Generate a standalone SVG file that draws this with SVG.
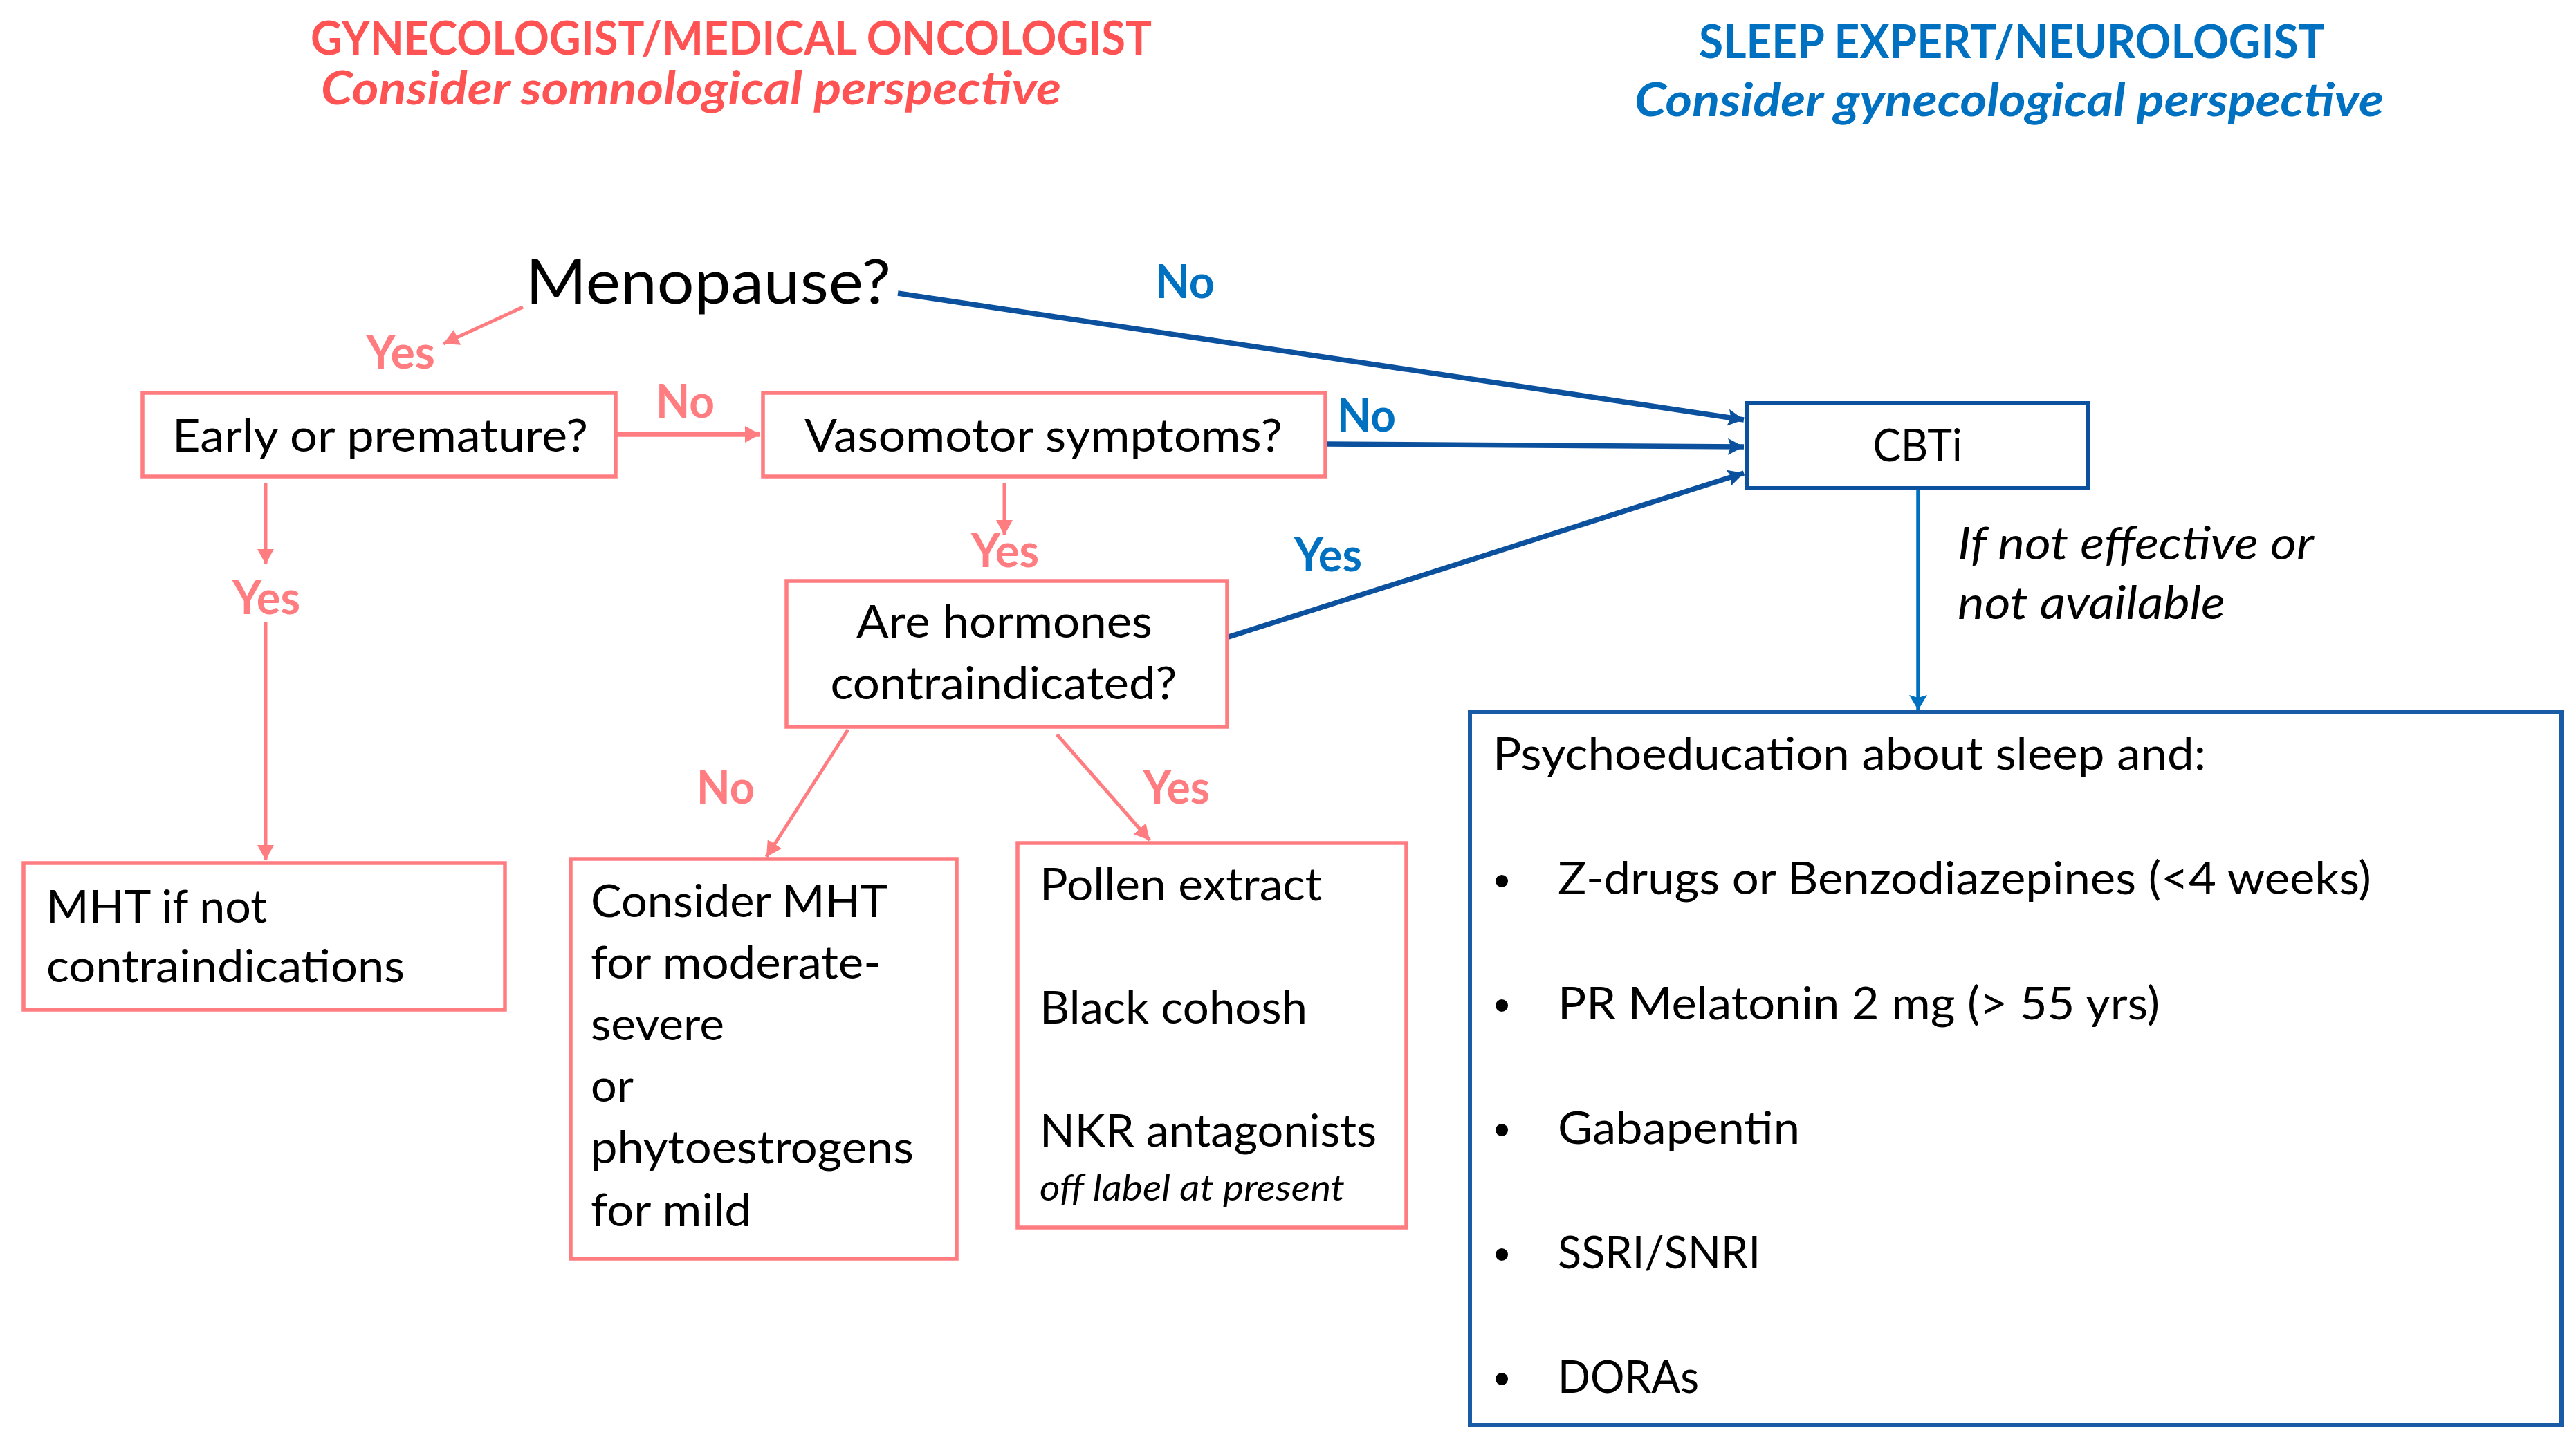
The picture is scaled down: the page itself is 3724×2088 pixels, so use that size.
<svg xmlns="http://www.w3.org/2000/svg" width="3724" height="2088" viewBox="0 0 3724 2088">
<style>
text{font-family:Lato,"Open Sans","Liberation Sans",sans-serif;}
.t{font-size:66px;fill:#000;}
.it{font-style:italic;}
.hr{font-size:66px;font-weight:bold;fill:#FF5252;}
.hb{font-size:66px;font-weight:bold;fill:#0070C0;}
.lp{font-size:66px;font-weight:bold;fill:#FF7C80;}
.lb{font-size:66px;font-weight:bold;fill:#0070C0;}
.pbox{fill:#fff;stroke:#FF7C80;stroke-width:5.5;}
.bbox{fill:#fff;stroke:#0B519E;stroke-width:6;}
.pl{fill:none;stroke:#FF7C80;}
.bl{fill:none;stroke:#0B519E;stroke-width:7.5;}
</style>
<defs>
<marker id="ap" markerUnits="userSpaceOnUse" markerWidth="26" markerHeight="26" refX="22" refY="12" orient="auto" viewBox="0 0 26 26">
<path d="M0,0 L22,12 L0,24 Z" fill="#FF7C80"/>
</marker>
<marker id="ab" markerUnits="userSpaceOnUse" markerWidth="28" markerHeight="28" refX="23" refY="12" orient="auto" viewBox="0 0 28 28">
<path d="M0,0 L23,12 L0,24 L4,12 Z" fill="#0B519E"/>
</marker>
<marker id="ab2" markerUnits="userSpaceOnUse" markerWidth="28" markerHeight="28" refX="22" refY="13" orient="auto" viewBox="0 0 28 28">
<path d="M0,0 L22,13 L0,26 L4,13 Z" fill="#0070C0"/>
</marker>
</defs>
<rect width="3724" height="2088" fill="#fff"/>
<g id="headers">
<text class="hr" x="449" y="79" textLength="1216" lengthAdjust="spacingAndGlyphs">GYNECOLOGIST/MEDICAL ONCOLOGIST</text>
<text class="hr it" x="464" y="151" textLength="1070" lengthAdjust="spacingAndGlyphs">Consider somnological perspective</text>
<text class="hb" x="2456" y="84" textLength="905" lengthAdjust="spacingAndGlyphs">SLEEP EXPERT/NEUROLOGIST</text>
<text class="hb it" x="2363" y="168" textLength="1083" lengthAdjust="spacingAndGlyphs">Consider gynecological perspective</text>
</g>
<g id="connectors">
<line class="pl" x1="756" y1="444" x2="641" y2="497" stroke-width="5" marker-end="url(#ap)"/>
<line class="bl" x1="1298" y1="424" x2="2521" y2="607" marker-end="url(#ab)"/>
<line class="pl" x1="891" y1="628" x2="1099" y2="628" stroke-width="7.5" marker-end="url(#ap)"/>
<line class="bl" x1="1917" y1="642" x2="2521" y2="646" marker-end="url(#ab)"/>
<line class="bl" x1="1776" y1="921" x2="2521" y2="684" marker-end="url(#ab)"/>
<line class="pl" x1="384" y1="699" x2="384" y2="816" stroke-width="5" marker-end="url(#ap)"/>
<line class="pl" x1="384" y1="900" x2="384" y2="1244" stroke-width="5" marker-end="url(#ap)"/>
<line class="pl" x1="1452" y1="699" x2="1452" y2="774" stroke-width="5" marker-end="url(#ap)"/>
<line class="pl" x1="1226" y1="1055" x2="1108" y2="1239" stroke-width="5" marker-end="url(#ap)"/>
<line class="pl" x1="1528" y1="1062" x2="1662" y2="1215" stroke-width="5" marker-end="url(#ap)"/>
<line x1="2773" y1="706" x2="2773" y2="1027" stroke="#0070C0" stroke-width="5.5" marker-end="url(#ab2)"/>
</g>
<g id="labels">
<text class="lp" x="529" y="533" textLength="100" lengthAdjust="spacingAndGlyphs">Yes</text>
<text class="lb" x="1670" y="431" textLength="86" lengthAdjust="spacingAndGlyphs">No</text>
<text class="lp" x="948" y="604" textLength="85" lengthAdjust="spacingAndGlyphs">No</text>
<text class="lb" x="1933" y="624" textLength="85" lengthAdjust="spacingAndGlyphs">No</text>
<text class="lp" x="1404" y="820" textLength="98" lengthAdjust="spacingAndGlyphs">Yes</text>
<text class="lp" x="336" y="888" textLength="98" lengthAdjust="spacingAndGlyphs">Yes</text>
<text class="lb" x="1871" y="826" textLength="98" lengthAdjust="spacingAndGlyphs">Yes</text>
<text class="lp" x="1007" y="1162" textLength="84" lengthAdjust="spacingAndGlyphs">No</text>
<text class="lp" x="1652" y="1162" textLength="97" lengthAdjust="spacingAndGlyphs">Yes</text>
<text class="t it" x="2830" y="809" textLength="515" lengthAdjust="spacingAndGlyphs">If not effective or</text>
<text class="t it" x="2830" y="895" textLength="387" lengthAdjust="spacingAndGlyphs">not available</text>
</g>
<g id="menopause">
<text class="t" x="760" y="439" style="font-size:90px" textLength="528" lengthAdjust="spacingAndGlyphs">Menopause?</text>
</g>
<g id="early">
<rect class="pbox" x="206" y="568" width="684" height="121"/>
<text class="t" x="249" y="653" textLength="601" lengthAdjust="spacingAndGlyphs">Early or premature?</text>
</g>
<g id="vasomotor">
<rect class="pbox" x="1103" y="568" width="813" height="121"/>
<text class="t" x="1163" y="653" textLength="691" lengthAdjust="spacingAndGlyphs">Vasomotor symptoms?</text>
</g>
<g id="hormones">
<rect class="pbox" x="1137" y="840" width="637" height="211"/>
<text class="t" x="1452" y="922" text-anchor="middle" textLength="428" lengthAdjust="spacingAndGlyphs">Are hormones</text>
<text class="t" x="1451" y="1011" text-anchor="middle" textLength="501" lengthAdjust="spacingAndGlyphs">contraindicated?</text>
</g>
<g id="cbti">
<rect class="bbox" x="2525" y="583" width="494" height="123"/>
<text class="t" x="2772" y="667" text-anchor="middle" textLength="129" lengthAdjust="spacingAndGlyphs">CBTi</text>
</g>
<g id="mht">
<rect class="pbox" x="34" y="1248" width="696" height="212"/>
<text class="t" x="67" y="1334" textLength="319" lengthAdjust="spacingAndGlyphs">MHT if not</text>
<text class="t" x="67" y="1420" textLength="518" lengthAdjust="spacingAndGlyphs">contraindications</text>
</g>
<g id="consider-mht">
<rect class="pbox" x="825" y="1242" width="558" height="578"/>
<text class="t" x="854" y="1326" textLength="429" lengthAdjust="spacingAndGlyphs">Consider MHT</text>
<text class="t" x="854" y="1415" textLength="420" lengthAdjust="spacingAndGlyphs">for moderate-</text>
<text class="t" x="854" y="1504" textLength="193" lengthAdjust="spacingAndGlyphs">severe</text>
<text class="t" x="854" y="1593" textLength="62" lengthAdjust="spacingAndGlyphs">or</text>
<text class="t" x="854" y="1682" textLength="467" lengthAdjust="spacingAndGlyphs">phytoestrogens</text>
<text class="t" x="854" y="1773" textLength="232" lengthAdjust="spacingAndGlyphs">for mild</text>
</g>
<g id="alternatives">
<rect class="pbox" x="1471" y="1219" width="562" height="556"/>
<text class="t" x="1503" y="1302" textLength="408" lengthAdjust="spacingAndGlyphs">Pollen extract</text>
<text class="t" x="1503" y="1480" textLength="387" lengthAdjust="spacingAndGlyphs">Black cohosh</text>
<text class="t" x="1503" y="1658" textLength="487" lengthAdjust="spacingAndGlyphs">NKR antagonists</text>
<text class="t it" x="1503" y="1736" style="font-size:52px" textLength="441" lengthAdjust="spacingAndGlyphs">off label at present</text>
</g>
<g id="pharmacotherapy">
<rect x="2125" y="1030" width="1578" height="1031" fill="#fff" stroke="#1A5BA6" stroke-width="6"/>
<text class="t" x="2158" y="1113" textLength="1031" lengthAdjust="spacingAndGlyphs">Psychoeducation about sleep and:</text>
<g fill="#000">
<circle cx="2171" cy="1274" r="9"/>
<circle cx="2171" cy="1454" r="9"/>
<circle cx="2171" cy="1634" r="9"/>
<circle cx="2171" cy="1814" r="9"/>
<circle cx="2171" cy="1994" r="9"/>
</g>
<text class="t" x="2252" y="1293" textLength="1176" lengthAdjust="spacingAndGlyphs">Z-drugs or Benzodiazepines (&lt;4 weeks)</text>
<text class="t" x="2252" y="1474" textLength="870" lengthAdjust="spacingAndGlyphs">PR Melatonin 2 mg (&gt; 55 yrs)</text>
<text class="t" x="2252" y="1654" textLength="350" lengthAdjust="spacingAndGlyphs">Gabapentin</text>
<text class="t" x="2252" y="1834" textLength="293" lengthAdjust="spacingAndGlyphs">SSRI/SNRI</text>
<text class="t" x="2252" y="2014" textLength="204" lengthAdjust="spacingAndGlyphs">DORAs</text>
</g>
</svg>
